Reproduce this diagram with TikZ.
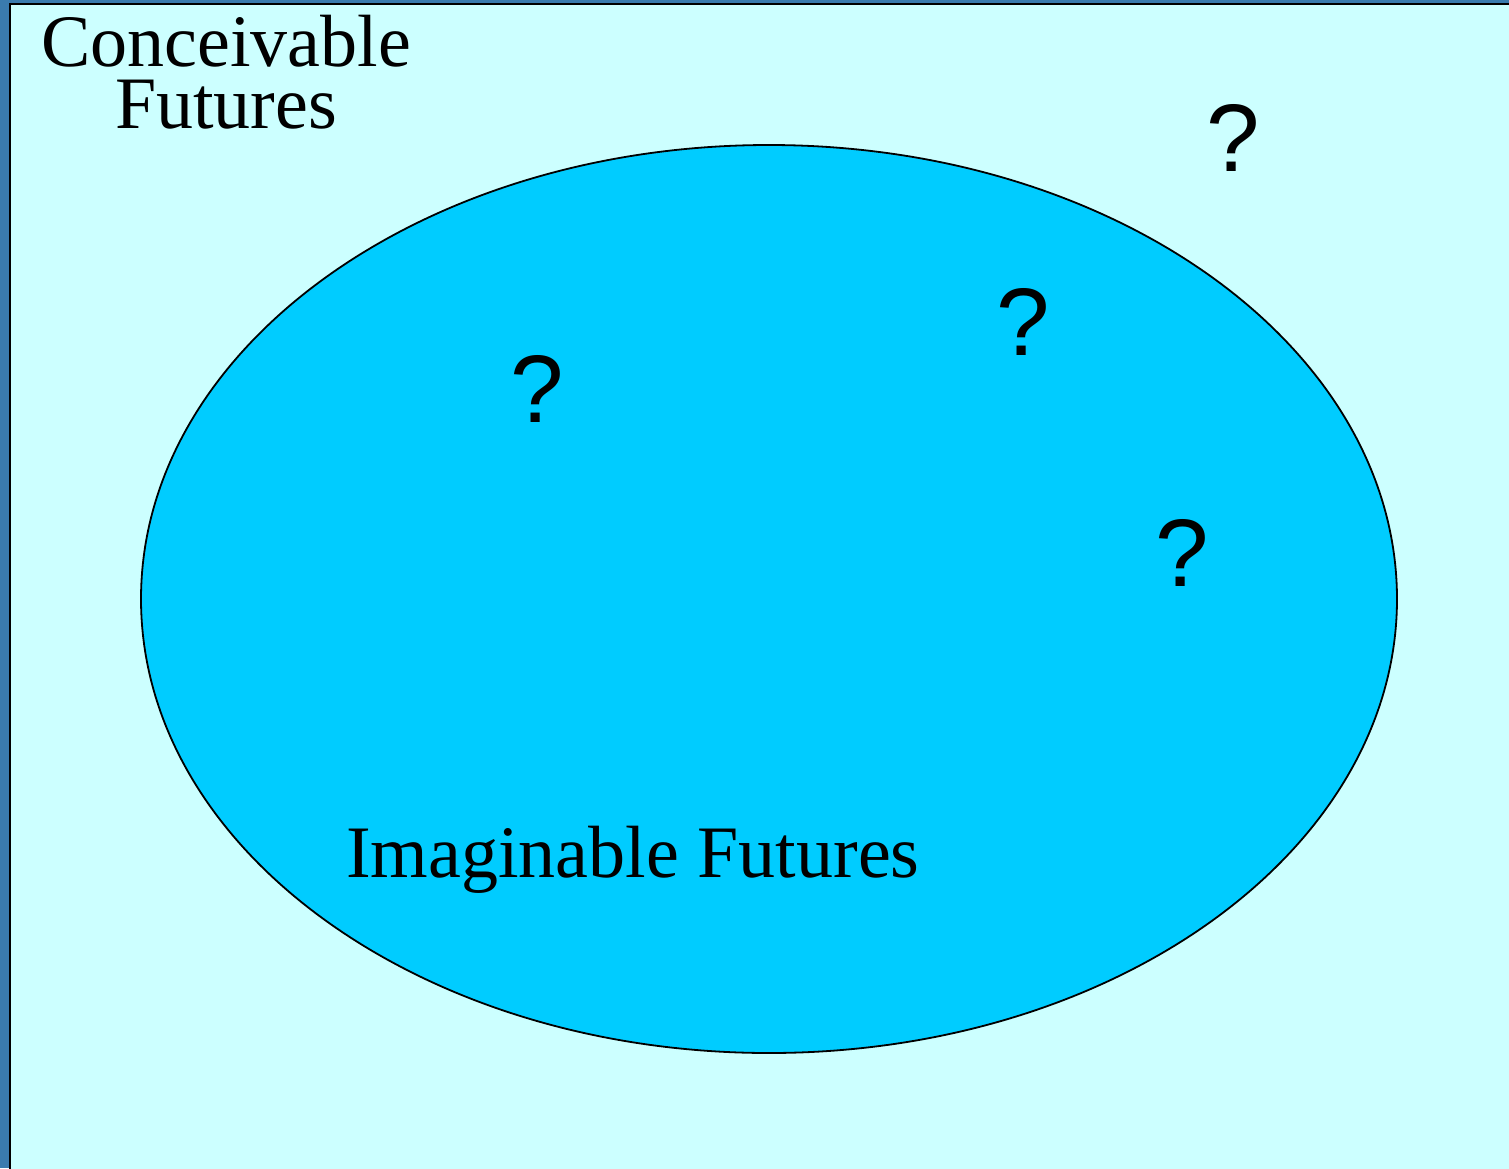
\documentclass[tikz,border=0pt]{standalone}
\usepackage{fontspec}
\setmainfont{Liberation Serif}
\newfontfamily\qfont{Liberation Sans}
\usetikzlibrary{shapes.geometric}
\definecolor{frameblue}{HTML}{3A7BAE}
\definecolor{paleblue}{HTML}{CCFFFF}
\definecolor{skyblue}{HTML}{00CCFF}
\tikzset{
 panel/.style={fill=paleblue,draw=black,line width=1pt},
 futureset/.style={ellipse,draw,fill=skyblue,line width=.9pt,minimum width=628pt,minimum height=454pt,inner sep=0},
 setlabel/.style={font=\fontsize{37}{31}\selectfont,align=center,inner sep=0},
 query/.style={font=\qfont\fontsize{48}{48}\selectfont,inner sep=0}
}
\begin{document}
\begin{tikzpicture}[x=.5pt,y=-.5pt]
\path[use as bounding box,fill=frameblue] (0,0) rectangle (1509,1168);
\path[panel] (10,4) rectangle (1512,1172);
\node[futureset] (imag) at (769,599) {};
\node[setlabel,anchor=base] (conc) at (226,128) {Conceivable\\Futures};
\node[setlabel,anchor=base] (imaglabel) at (633,877) {Imaginable Futures};
\node[query] (q1) at (1233,138) {?};
\node[query] (q2) at (1023,322) {?};
\node[query] (q3) at (537,389) {?};
\node[query] (q4) at (1182,553) {?};
\end{tikzpicture}
\end{document}
